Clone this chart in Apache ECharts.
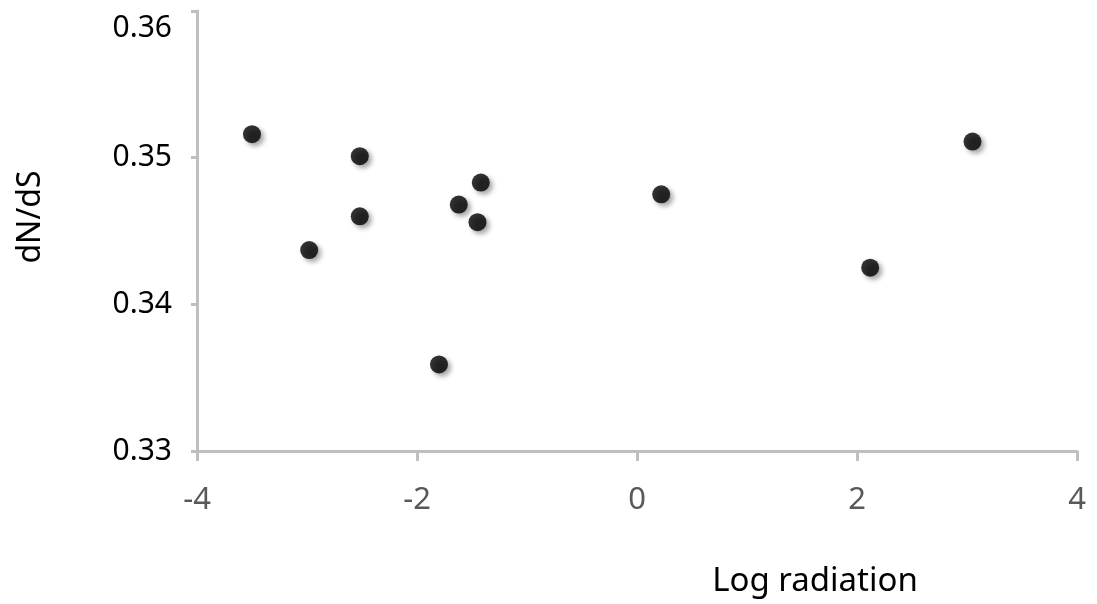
<!DOCTYPE html>
<html>
<head>
<meta charset="utf-8">
<script src="https://cdn.jsdelivr.net/npm/echarts@6/dist/echarts.min.js"></script>
<style>
  html, body { margin: 0; padding: 0; background: #fff; }
  #chart { width: 1097px; height: 604px; }
</style>
</head>
<body>
<div id="chart"></div>
<script>
// Log radiation (x) against dN/dS (y)
const logRadiation = [-3.50, -2.52, -1.42, -1.62, -1.45, -2.52, -2.98, -1.80, 3.05, 2.12, 0.22];
const dNdS = [0.3516, 0.3501, 0.3483, 0.3468, 0.3456, 0.3460, 0.3437, 0.3359, 0.3511, 0.3425, 0.3475];
const xTicks = { min: -4, max: 4, interval: 2 };
const yTicks = { min: 0.33, max: 0.36, interval: 0.01 };

const FONT = 'Noto Sans';
const AXIS_GREY = '#bfbfbf';

const points = logRadiation.map((x, i) => [x, dNdS[i]]);

const chart = echarts.init(document.getElementById('chart'), null, { renderer: 'canvas' });
chart.setOption({
  animation: false,
  backgroundColor: '#ffffff',
  grid: { left: 197, right: 20, top: 11, bottom: 153, containLabel: false },
  xAxis: {
    type: 'value',
    min: xTicks.min, max: xTicks.max, interval: xTicks.interval,
    name: 'Log radiation',
    nameLocation: 'middle',
    nameGap: 114,
    nameTextStyle: { fontFamily: FONT, fontSize: 33, color: '#000', padding: [0, 0, 0, 356] },
    axisLine: { show: true, onZero: false, lineStyle: { color: AXIS_GREY, width: 3 } },
    axisTick: { show: true, inside: false, length: 10, lineStyle: { color: AXIS_GREY, width: 3 } },
    axisLabel: { fontFamily: FONT, fontSize: 31, color: '#595959', margin: 34 },
    splitLine: { show: false }
  },
  yAxis: {
    type: 'value',
    min: yTicks.min, max: yTicks.max, interval: yTicks.interval,
    name: 'dN/dS',
    nameLocation: 'middle',
    nameGap: 150,
    nameRotate: 90,
    nameTextStyle: { fontFamily: FONT, fontSize: 32, color: '#000', padding: [0, 0, 0, 28] },
    axisLine: { show: true, onZero: false, lineStyle: { color: AXIS_GREY, width: 3 } },
    axisTick: { show: true, inside: false, length: 6, lineStyle: { color: AXIS_GREY, width: 3 } },
    axisLabel: {
      fontFamily: FONT, fontSize: 30, color: '#000', margin: 25,
      formatter: (v) => {
        const s = v.toFixed(2);
        return Math.abs(v - yTicks.max) < 1e-9 ? '{top|' + s + '}' : s;
      },
      rich: { top: { fontFamily: FONT, fontSize: 30, color: '#000', padding: [34, 0, 0, 0] } }
    },
    splitLine: { show: false }
  },
  series: [{
    type: 'scatter',
    data: points,
    symbol: 'circle',
    symbolSize: 18,
    itemStyle: {
      color: '#000000',
      shadowColor: 'rgba(0,0,0,0.45)',
      shadowBlur: 5,
      shadowOffsetX: 3,
      shadowOffsetY: 3
    }
  }]
});
</script>
</body>
</html>
